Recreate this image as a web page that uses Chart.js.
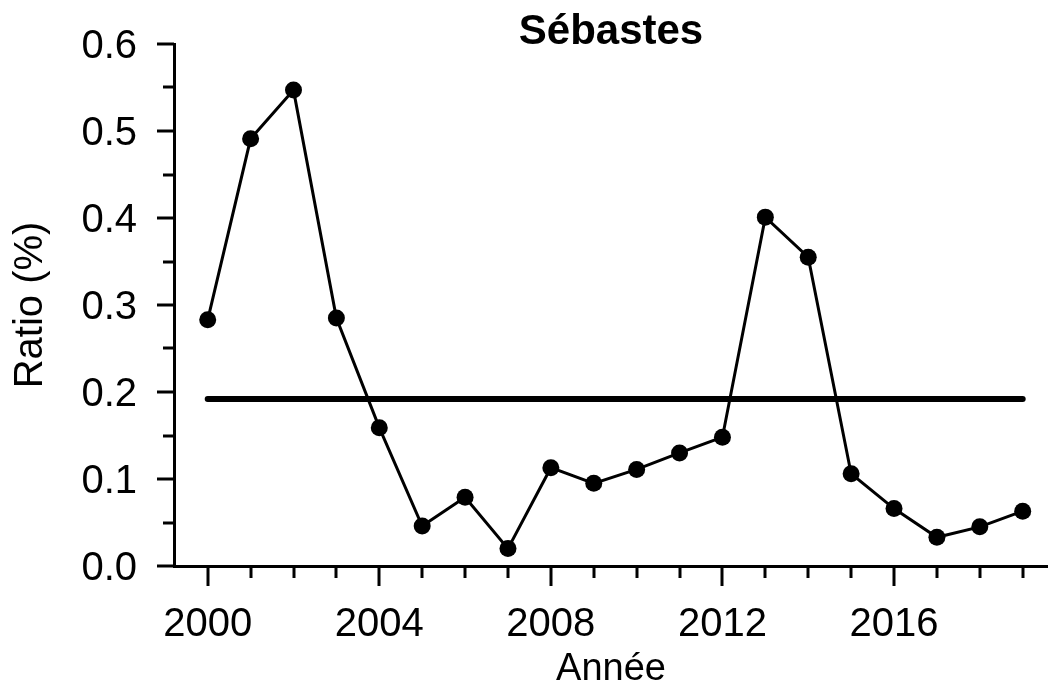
<!DOCTYPE html>
<html>
<head>
<meta charset="utf-8">
<title>Sébastes</title>
<script src="https://cdn.jsdelivr.net/npm/chart.js@4.4.0/dist/chart.umd.min.js"></script>
<style>
html, body { margin: 0; padding: 0; background: #fff; }
#wrap { width: 1048px; height: 694px; }
</style>
</head>
<body>
<div id="wrap"><canvas id="myChart" width="1048" height="694"></canvas></div>
<script>
// data
var years = [2000, 2001, 2002, 2003, 2004, 2005, 2006, 2007, 2008, 2009,
             2010, 2011, 2012, 2013, 2014, 2015, 2016, 2017, 2018, 2019];
var ratios = [0.283, 0.491, 0.547, 0.285, 0.159, 0.046, 0.079, 0.020, 0.113, 0.095,
              0.111, 0.130, 0.148, 0.401, 0.355, 0.106, 0.066, 0.033, 0.045, 0.063];
var meanRatio = 0.192;
var yTicks = [0, 0.05, 0.1, 0.15, 0.2, 0.25, 0.3, 0.35, 0.4, 0.45, 0.5, 0.55, 0.6];

var fontFam = '"Liberation Sans", Arial, Helvetica, sans-serif';

// major / minor tick marks drawn outside the axes
var tickMarks = {
  id: 'tickMarks',
  afterDraw: function(chart) {
    var ctx = chart.ctx;
    var xs = chart.scales.x;
    var ys = chart.scales.y;
    ctx.save();
    ctx.strokeStyle = '#000';
    ctx.lineWidth = 3;
    yTicks.forEach(function(v, i) {
      var y = Math.round(ys.getPixelForValue(v));
      var len = (i % 2 === 0) ? 17 : 11;
      ctx.beginPath();
      ctx.moveTo(ys.right - len, y);
      ctx.lineTo(ys.right, y);
      ctx.stroke();
    });
    years.forEach(function(v) {
      var x = Math.round(xs.getPixelForValue(v));
      var len = (v % 4 === 0) ? 20 : 12;
      ctx.beginPath();
      ctx.moveTo(x, xs.top);
      ctx.lineTo(x, xs.top + len);
      ctx.stroke();
    });
    ctx.restore();
  }
};

var ctx = document.getElementById('myChart').getContext('2d');
var myChart = new Chart(ctx, {
  type: 'line',
  data: {
    datasets: [{
      data: years.map(function(yr, i) { return { x: yr, y: ratios[i] }; }),
      borderColor: '#000',
      borderWidth: 3,
      pointRadius: 8.5,
      pointBackgroundColor: '#000',
      pointBorderWidth: 0,
      tension: 0,
      clip: false
    }, {
      data: [{ x: years[0], y: meanRatio }, { x: years[years.length - 1], y: meanRatio }],
      borderColor: '#000',
      borderWidth: 6,
      borderCapStyle: 'round',
      pointRadius: 0,
      tension: 0,
      clip: false
    }]
  },
  options: {
    responsive: false,
    animation: false,
    layout: { padding: 0, autoPadding: false },
    plugins: {
      legend: { display: false },
      tooltip: { enabled: false },
      title: {
        display: true,
        text: 'Sébastes',
        fullSize: false,
        color: '#000',
        font: { family: fontFam, size: 42, weight: 'bold', lineHeight: 0.5 },
        padding: { top: 22, bottom: 1 }
      }
    },
    scales: {
      x: {
        type: 'linear',
        min: 1999.214,
        max: 2019.59,
        grid: { display: false },
        border: { display: true, color: '#000', width: 3 },
        afterBuildTicks: function(scale) {
          scale.ticks = years.map(function(v) { return { value: v }; });
        },
        afterFit: function(scale) {
          scale.height = 128;
          scale.paddingLeft = 0;
          scale.paddingRight = 0;
        },
        ticks: {
          autoSkip: false,
          maxRotation: 0,
          color: '#000',
          padding: 31,
          font: { family: fontFam, size: 40, lineHeight: 1 },
          callback: function(value) { return value % 4 === 0 ? String(value) : ''; }
        },
        title: {
          display: true,
          text: 'Année',
          color: '#000',
          font: { family: fontFam, size: 38, lineHeight: 1 },
          padding: { top: 0, bottom: 5 }
        }
      },
      y: {
        min: 0,
        max: 0.6,
        grid: { display: false },
        border: { display: true, color: '#000', width: 3 },
        afterBuildTicks: function(scale) {
          scale.ticks = yTicks.map(function(v) { return { value: v }; });
        },
        afterFit: function(scale) {
          scale.width = 174;
          scale.paddingTop = 0;
          scale.paddingBottom = 0;
        },
        ticks: {
          autoSkip: false,
          color: '#000',
          padding: 29,
          labelOffset: 3,
          font: { family: fontFam, size: 40, lineHeight: 1 },
          callback: function(value, index) { return index % 2 === 0 ? value.toFixed(1) : ''; }
        },
        title: {
          display: true,
          text: 'Ratio (%)',
          color: '#000',
          font: { family: fontFam, size: 40, lineHeight: 1 },
          padding: { top: 11, bottom: 0 }
        }
      }
    }
  },
  plugins: [tickMarks]
});
</script>
</body>
</html>
